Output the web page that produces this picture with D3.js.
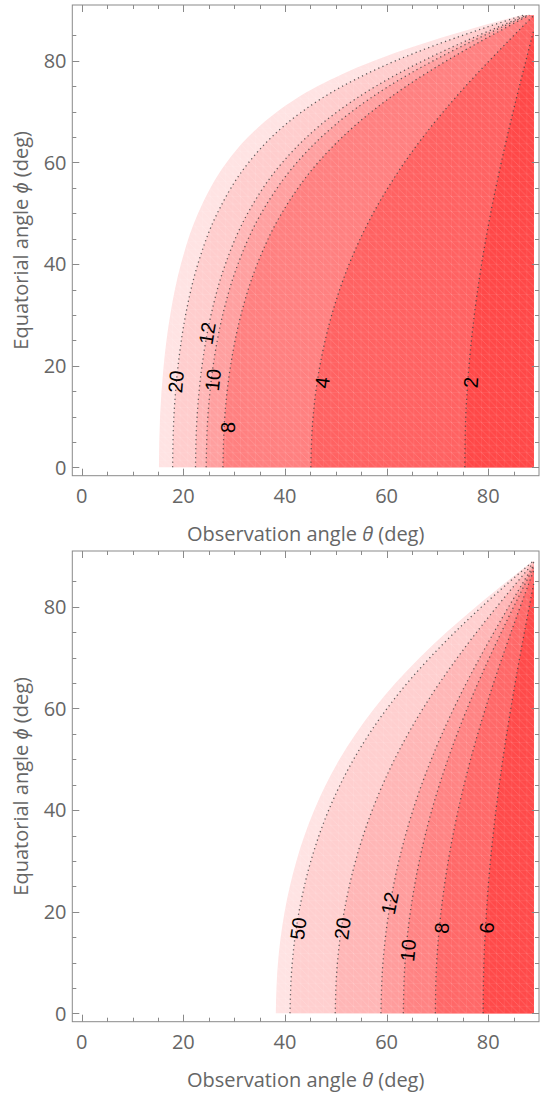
<!DOCTYPE html>
<html><head><meta charset="utf-8">
<script src="https://cdn.jsdelivr.net/npm/d3@7"></script>
<style>body{margin:0;background:#fff} svg{display:block}</style>
</head><body><svg id="c" width="542" height="1100"></svg>
<script>
// ---------- data ----------
const xTickValues = [0, 20, 40, 60, 80];
const yTickValues = [0, 20, 40, 60, 80];
const minorTickValues = [5,10,15,25,30,35,45,50,55,65,70,75,85];

// top panel: outer edge of the shaded region, then contours 20, 12, 10, 8, 4, 2  ([theta, phi] in deg)
const topEdge = [[15.2,0],[15.42,10],[16.13,20],[17.42,30],[19.53,40],[22.91,50],[28.52,60],[32.74,65],[38.46,70],[46.39,75],[57.41,80],[65.84,83],[75.6,86],[82.68,88],[86.33,89]];
const top20 = [[17.9,0],[18.15,10],[18.97,20],[20.45,30],[22.86,40],[26.68,50],[32.86,60],[37.38,65],[43.36,70],[51.29,75],[61.73,80],[69.32,83],[77.81,86],[83.83,88],[86.91,89]];
const top12 = [[22.4,0],[22.71,10],[23.68,20],[25.45,30],[28.28,40],[32.67,50],[39.5,60],[44.28,65],[50.31,70],[57.87,75],[67.16,80],[73.53,83],[80.39,86],[85.16,88],[87.58,89]];
const top10 = [[24.5,0],[24.83,10],[25.87,20],[27.75,30],[30.75,40],[35.33,50],[42.35,60],[47.16,65],[53.12,70],[60.41,75],[69.14,80],[75.03,83],[81.3,86],[85.62,88],[87.81,89]];
const top8 = [[27.8,0],[28.16,10],[29.3,20],[31.34,30],[34.54,40],[39.36,50],[46.52,60],[51.29,65],[57.03,70],[63.86,75],[71.77,80],[76.99,83],[82.46,86],[86.21,88],[88.1,89]];
const top4 = [[45.1,0],[45.54,10],[46.88,20],[49.21,30],[52.64,40],[57.36,50],[63.52,60],[67.16,65],[71.18,70],[75.54,75],[80.18,80],[83.08,83],[86.02,86],[88.01,88],[89,89]];
const top2 = [[75.4,0],[75.59,10],[76.23,20],[77.27,30],[78.7,40],[80.48,50],[82.57,60],[83.71,65],[84.9,70],[86.14,75],[87.41,80],[88.18,83],[89,86.2]];
const topLabelText = ["20","12","10","8","4","2"];
const topLabelPos = [[18.5,16.85],[24.66,26.4],[25.8,17.2],[28.76,7.83],[47.3,16.7],[76.55,16.7]];

// bottom panel: outer edge, then contours 50, 20, 12, 10, 8, 6
const botEdge = [[38.2,0],[38.63,10],[39.94,20],[42.26,30],[45.77,40],[50.75,50],[57.57,60],[61.76,65],[66.51,70],[71.79,75],[77.56,80],[81.2,83],[84.93,86],[87.46,88],[88.73,89]];
const bot50 = [[41.0,0],[41.44,10],[42.77,20],[45.11,30],[48.61,40],[53.52,50],[60.09,60],[64.07,65],[68.52,70],[73.42,75],[78.7,80],[82.02,83],[85.41,86],[87.7,88],[88.85,89]];
const bot20 = [[49.9,0],[50.33,10],[51.65,20],[53.9,30],[57.18,40],[61.58,50],[67.17,60],[70.41,65],[73.94,70],[77.71,75],[81.68,80],[84.14,83],[86.64,86],[88.32,88],[89,88.8]];
const bot12 = [[58.9,0],[59.29,10],[60.46,20],[62.42,30],[65.2,40],[68.81,50],[73.22,60],[75.7,65],[78.35,70],[81.13,75],[84.02,80],[85.8,83],[87.59,86],[89,88.3]];
const bot10 = [[63.3,0],[63.63,10],[64.69,20],[66.45,30],[68.91,40],[72.07,50],[75.87,60],[77.99,65],[80.23,70],[82.58,75],[85.0,80],[86.49,83],[87.99,86],[89,88.0]];
const bot8 = [[69.6,0],[69.86,10],[70.72,20],[72.14,30],[74.09,40],[76.54,50],[79.46,60],[81.06,65],[82.75,70],[84.5,75],[86.3,80],[87.4,83],[89,87.3]];
const bot6 = [[79.0,0],[79.16,10],[79.65,20],[80.44,30],[81.53,40],[82.88,50],[84.45,60],[85.3,65],[86.2,70],[87.12,75],[88.07,80],[89,84.8]];
const botLabelText = ["50","20","12","10","8","6"];
const botLabelPos = [[42.6,16.7],[51.3,16.7],[60.6,21.7],[64.2,12.4],[70.8,16.8],[79.7,16.8]];

const dataMax = 89;
const xTitle = "Observation angle ";
const yTitle = "Equatorial angle ";

// ---------- styles ----------
const topFills = ["#ffe3e3","#ffcdcd","#ffb6b6","#ff9f9f","#ff8080","#ff6262","#ff4848"];
const botFills = ["#ffe3e3","#ffcfcf","#ffb6b6","#ff9c9c","#ff8383","#ff6868","#ff4a4a"];

const svg = d3.select("#c");
const x = d3.scaleLinear().domain([-1.85, 90.0]).range([72.3, 539]);
const y = d3.scaleLinear().domain([-1.65, 91.0]).range([475.7, 5]);

const defs = svg.append("defs");
const meshDeg = dataMax / 60;
const mw = x(meshDeg) - x(0), mh = y(0) - y(meshDeg);
const pat = defs.append("pattern").attr("id","mesh").attr("patternUnits","userSpaceOnUse")
  .attr("x", x(0)).attr("y", y(dataMax)).attr("width", mw).attr("height", mh);
pat.append("path").attr("d", `M0,0H${mw}M0,0V${mh}M0,0L${mw},${mh}`)
  .attr("stroke","#fff").attr("stroke-opacity",0.2).attr("stroke-width",0.7).attr("fill","none");

const line = d3.line().x(d => x(d[0])).y(d => y(d[1])).curve(d3.curveMonotoneY);
function regionPath(pts){
  const last = pts[pts.length-1];
  return line(pts) + `L${x(dataMax)},${y(last[1])}L${x(dataMax)},${y(0)}Z`;
}
function tangentAngle(pts, phi){
  let i = d3.bisector(d => d[1]).right(pts, phi) - 1;
  i = Math.max(0, Math.min(pts.length-2, i));
  const dx = x(pts[i+1][0]) - x(pts[i][0]);
  const dy = y(pts[i+1][1]) - y(pts[i][1]);
  return Math.atan2(dy, dx) * 180 / Math.PI;
}

function drawPanel(offset, contours, fills, labelText, labelPos){
  const g = svg.append("g").attr("transform", `translate(0,${offset})`);
  contours.forEach((c, i) => {
    g.append("path").attr("d", regionPath(c)).attr("fill", fills[i]);
  });
  g.append("path").attr("d", regionPath(contours[0])).attr("fill","url(#mesh)");
  contours.slice(1).forEach(c => {
    g.append("path").attr("d", line(c)).attr("fill","none")
      .attr("stroke","#444").attr("stroke-width",1.3).attr("stroke-opacity",0.85)
      .attr("stroke-dasharray","1.2,3.3");
  });
  labelText.forEach((t, i) => {
    const [th, ph] = labelPos[i];
    const ang = tangentAngle(contours[i+1], ph);
    g.append("text").text(t)
      .attr("transform", `translate(${x(th)},${y(ph)}) rotate(${ang})`)
      .attr("text-anchor","middle").attr("dy","0.36em")
      .attr("font-family","'Liberation Sans', Arial, sans-serif").attr("font-size",20).attr("fill","#000");
  });

  // frame
  const [x0, x1] = x.range(), [y0, y1] = y.range();
  g.append("rect").attr("x", x0).attr("y", y1).attr("width", x1 - x0).attr("height", y0 - y1)
    .attr("fill","none").attr("stroke","#8a8a8a").attr("stroke-width",1);
  const tk = g.append("g").attr("stroke","#8a8a8a").attr("stroke-width",1);
  const ticks = xTickValues.map(v => [v, 7]).concat(minorTickValues.map(v => [v, 4]));
  ticks.forEach(([v, len]) => {
    const px = Math.round(x(v)) + 0.5;
    tk.append("line").attr("x1", px).attr("x2", px).attr("y1", y0).attr("y2", y0 - len);
    tk.append("line").attr("x1", px).attr("x2", px).attr("y1", y1).attr("y2", y1 + len);
  });
  const yt = yTickValues.map(v => [v, 7]).concat(minorTickValues.map(v => [v, 4]));
  yt.forEach(([v, len]) => {
    const py = Math.round(y(v)) + 0.5;
    tk.append("line").attr("y1", py).attr("y2", py).attr("x1", x0).attr("x2", x0 + len);
    tk.append("line").attr("y1", py).attr("y2", py).attr("x1", x1).attr("x2", x1 - len);
  });
  const font = "'Open Sans', sans-serif";
  xTickValues.forEach(v => {
    g.append("text").text(v).attr("x", x(v)).attr("y", 503)
      .attr("text-anchor","middle").attr("font-family",font).attr("font-size",20).attr("fill","#666");
  });
  yTickValues.forEach(v => {
    g.append("text").text(v).attr("x", 66.5).attr("y", y(v)).attr("dy","0.36em")
      .attr("text-anchor","end").attr("font-family",font).attr("font-size",20).attr("fill","#666");
  });
  const xt = g.append("text").attr("x", (x0 + x1) / 2).attr("y", 541)
    .attr("text-anchor","middle").attr("font-family",font).attr("font-size",20).attr("fill","#666");
  xt.append("tspan").text(xTitle);
  xt.append("tspan").text("θ").attr("font-style","italic");
  xt.append("tspan").text(" (deg)");
  const ytl = g.append("text").attr("transform", `translate(28,${(y0 + y1) / 2}) rotate(-90)`)
    .attr("text-anchor","middle").attr("font-family",font).attr("font-size",20).attr("fill","#666");
  ytl.append("tspan").text(yTitle);
  ytl.append("tspan").text("ϕ").attr("font-style","italic");
  ytl.append("tspan").text(" (deg)");
}

drawPanel(0, [topEdge, top20, top12, top10, top8, top4, top2], topFills, topLabelText, topLabelPos);
drawPanel(546, [botEdge, bot50, bot20, bot12, bot10, bot8, bot6], botFills, botLabelText, botLabelPos);
</script></body></html>
